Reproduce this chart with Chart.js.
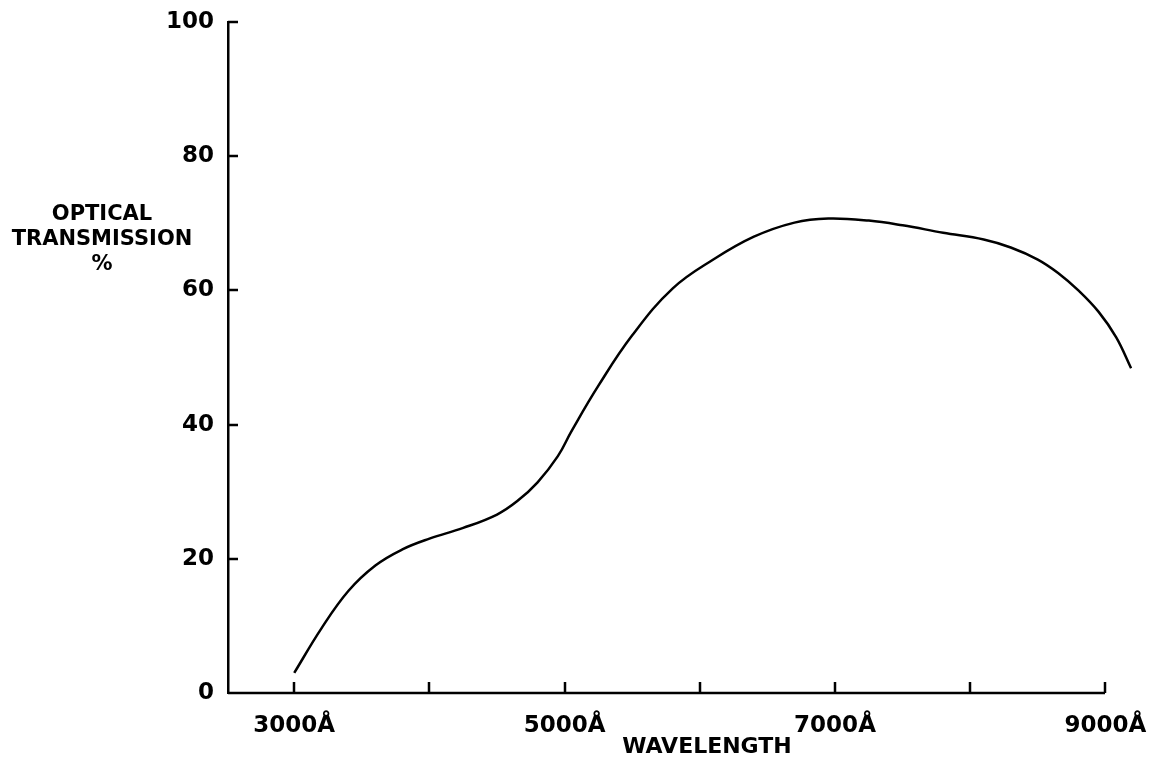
<!DOCTYPE html>
<html>
<head>
<meta charset="utf-8">
<script src="https://cdn.jsdelivr.net/npm/chart.js@4/dist/chart.umd.min.js"></script>
<style>
  html, body { margin: 0; padding: 0; background: #fff; }
  #wrap { width: 1158px; height: 759px; }
</style>
</head>
<body>
<div id="wrap"><canvas id="transmissionChart" width="1158" height="759"></canvas></div>
<script>
// curve (wavelength in angstrom, transmission in %)
const wavelengths = [3000, 3200, 3400, 3600, 3800, 4000, 4250, 4500, 4650, 4800, 4950, 5050,
    5250, 5500, 5800, 6100, 6400, 6700, 6950, 7250, 7500, 7800, 8100, 8300, 8500, 8650,
    8800, 8950, 9080, 9190];
const transmission = [3.0, 9.6, 15.2, 19.0, 21.4, 23.0, 24.6, 26.6, 28.6, 31.4, 35.3, 39.0,
    45.8, 53.3, 60.3, 64.6, 68.0, 70.1, 70.7, 70.4, 69.7, 68.6, 67.6, 66.4, 64.6, 62.6,
    60.0, 56.8, 53.0, 48.4];

const xTickValues = [3000, 4000, 5000, 6000, 7000, 8000, 9000];
const xTickLabels = ['3000Å', '', '5000Å', '', '7000Å', '', '9000Å'];
const yTickValues = [0, 20, 40, 60, 80, 100];
const yTitleLines = ['OPTICAL', 'TRANSMISSION', '%'];
const xTitle = 'WAVELENGTH';

const FONT = '"DejaVu Sans", "Liberation Sans", sans-serif';

// ticks in this old plot point into the plot area, so draw them ourselves
const insideTicks = {
    id: 'insideTicks',
    afterDraw(chart) {
        const ctx = chart.ctx;
        const xs = chart.scales.x, ys = chart.scales.y;
        const area = chart.chartArea;
        const xEnd = Math.round(xs.getPixelForValue(xTickValues[xTickValues.length - 1]));
        ctx.save();
        ctx.strokeStyle = '#000';
        ctx.lineWidth = 2.5;
        ctx.beginPath();
        // bottom axis stops at the last tick, the curve runs past it
        ctx.moveTo(area.left, area.bottom);
        ctx.lineTo(xEnd, area.bottom);
        xTickValues.forEach(v => {
            const px = Math.round(xs.getPixelForValue(v));
            ctx.moveTo(px, area.bottom);
            ctx.lineTo(px, area.bottom - 11);
        });
        yTickValues.forEach(v => {
            const py = Math.round(ys.getPixelForValue(v));
            ctx.moveTo(area.left, py);
            ctx.lineTo(area.left + 10, py);
        });
        ctx.stroke();

        // axis titles
        ctx.fillStyle = '#000';
        ctx.textAlign = 'center';
        ctx.textBaseline = 'middle';
        ctx.font = 'bold 21px ' + FONT;
        yTitleLines.forEach((line, i) => {
            ctx.fillText(line, 102, 215 + i * 25);
        });
        ctx.font = 'bold 22px ' + FONT;
        ctx.fillText(xTitle, area.left + 479, 747);
        ctx.restore();
    }
};

const ctx = document.getElementById('transmissionChart').getContext('2d');
new Chart(ctx, {
    type: 'line',
    data: {
        datasets: [{
            data: wavelengths.map((w, i) => ({ x: w, y: transmission[i] })),
            borderColor: '#000',
            borderWidth: 2.5,
            pointRadius: 0,
            fill: false,
            tension: 0.4
        }]
    },
    options: {
        responsive: false,
        animation: false,
        layout: { padding: { left: 0, top: 22, right: 23, bottom: 0 } },
        plugins: {
            legend: { display: false },
            tooltip: { enabled: false }
        },
        scales: {
            x: {
                type: 'linear',
                min: 2510,
                max: 9200,
                afterBuildTicks: scale => {
                    scale.ticks = xTickValues.map(v => ({ value: v }));
                },
                afterFit: scale => { scale.height = 66; },
                grid: { display: false },
                border: { display: false },
                ticks: {
                    autoSkip: false,
                    maxRotation: 0,
                    padding: 11,
                    color: '#000',
                    font: { family: FONT, size: 23, weight: 'bold' },
                    callback: (value) => xTickLabels[xTickValues.indexOf(value)]
                }
            },
            y: {
                min: 0,
                max: 100,
                afterBuildTicks: scale => {
                    scale.ticks = yTickValues.map(v => ({ value: v }));
                },
                afterFit: scale => { scale.width = 228; },
                grid: { display: false },
                border: { display: true, color: '#000', width: 2.5 },
                ticks: {
                    padding: 6,
                    color: '#000',
                    font: { family: FONT, size: 23, weight: 'bold' }
                }
            }
        }
    },
    plugins: [insideTicks]
});
</script>
</body>
</html>
